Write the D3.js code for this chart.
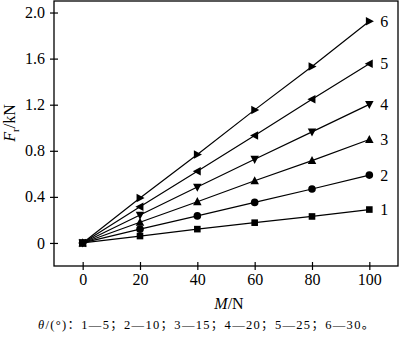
<!DOCTYPE html>
<html><head><meta charset="utf-8">
<script src="https://cdn.jsdelivr.net/npm/d3@7"></script>
<style>body{margin:0;background:#fff}svg{display:block}</style>
</head><body>
<svg id="c" width="400" height="338"></svg>
<script>
const xValues = [0, 20, 40, 60, 80, 100];
const s1 = [0, 0.06, 0.12, 0.176, 0.23, 0.29];
const s2 = [0, 0.12, 0.235, 0.352, 0.468, 0.589];
const s3 = [0, 0.18, 0.358, 0.54, 0.715, 0.898];
const s4 = [0, 0.242, 0.485, 0.726, 0.964, 1.203];
const s5 = [0, 0.314, 0.623, 0.932, 1.247, 1.556];
const s6 = [0, 0.39, 0.768, 1.155, 1.532, 1.925];
const seriesNames = ["1", "2", "3", "4", "5", "6"];
const seriesMarkers = ["square", "circle", "up", "down", "left", "right"];
const xTicks = [0, 20, 40, 60, 80, 100];
const yTicks = [0, 0.4, 0.8, 1.2, 1.6, 2.0];
const yTickLabels = ["0", "0.4", "0.8", "1.2", "1.6", "2.0"];
const notePairs = [["1", "5"], ["2", "10"], ["3", "15"], ["4", "20"], ["5", "25"], ["6", "30"]];

const allSeries = [s1, s2, s3, s4, s5, s6];
const svg = d3.select("#c");
const L = 54, R = 398, T = 1, B = 266;
const x = d3.scaleLinear().domain([-10, 110]).range([L, R]);
const y = d3.scaleLinear().domain([-0.2, 2.1]).range([B, T]);
const font = "'Liberation Serif','Times New Roman',serif";
const cjk = "'Noto Sans CJK SC',sans-serif";

svg.append("rect").attr("x", L).attr("y", T).attr("width", R - L).attr("height", B - T)
  .attr("fill", "none").attr("stroke", "#000").attr("stroke-width", 1.3);

const xAxis = svg.append("g").attr("transform", `translate(0,${B})`)
  .call(d3.axisBottom(x).tickValues(xTicks).tickSize(4).tickSizeOuter(0).tickPadding(4));
const yAxis = svg.append("g").attr("transform", `translate(${L},0)`)
  .call(d3.axisLeft(y).tickValues(yTicks).tickFormat((d, i) => yTickLabels[i]).tickSize(4).tickSizeOuter(0).tickPadding(5));
[xAxis, yAxis].forEach(g => {
  g.attr("font-family", null).attr("font-size", null);
  g.select(".domain").remove();
  g.selectAll("text").style("font-family", font).style("font-size", "16px").attr("fill", "#000");
});
xAxis.selectAll(".tick line").attr("y1", -4).attr("y2", 4).attr("stroke", "#000").attr("stroke-width", 1.2);
yAxis.selectAll(".tick line").attr("x1", 4).attr("x2", -4).attr("stroke", "#000").attr("stroke-width", 1.2);

const line = d3.line().x((d, i) => x(xValues[i])).y(d => y(d));
const tri = (cx, cy, s, dir) => {
  const h = s * 0.9;
  let pts;
  if (dir === "up") pts = [[cx, cy - h * 0.6], [cx - s / 2, cy + h * 0.45], [cx + s / 2, cy + h * 0.45]];
  if (dir === "down") pts = [[cx, cy + h * 0.6], [cx - s / 2, cy - h * 0.45], [cx + s / 2, cy - h * 0.45]];
  if (dir === "left") pts = [[cx - h * 0.6, cy], [cx + h * 0.45, cy - s / 2], [cx + h * 0.45, cy + s / 2]];
  if (dir === "right") pts = [[cx + h * 0.6, cy], [cx - h * 0.45, cy - s / 2], [cx - h * 0.45, cy + s / 2]];
  return "M" + pts.map(p => p.join(",")).join("L") + "Z";
};

allSeries.forEach((vals, si) => {
  const g = svg.append("g");
  g.append("path").attr("d", line(vals)).attr("fill", "none").attr("stroke", "#000").attr("stroke-width", 1.2);
  const m = seriesMarkers[si];
  vals.forEach((v, i) => {
    const cx = x(xValues[i]), cy = y(v);
    if (m === "square") g.append("rect").attr("x", cx - 3.3).attr("y", cy - 3.3).attr("width", 6.6).attr("height", 6.6).attr("fill", "#000");
    else if (m === "circle") g.append("circle").attr("cx", cx).attr("cy", cy).attr("r", 3.8).attr("fill", "#000");
    else g.append("path").attr("d", tri(cx, cy, 8.5, m)).attr("fill", "#000");
  });
  g.append("text").attr("x", x(xValues[xValues.length - 1]) + 15).attr("y", y(vals[vals.length - 1]) + 5.5)
    .attr("text-anchor", "middle").style("font-family", font).style("font-size", "16px").text(seriesNames[si]);
});

const xt = svg.append("text").attr("x", 229).attr("y", 309).attr("text-anchor", "middle")
  .style("font-family", font).style("font-size", "16px");
xt.append("tspan").attr("font-style", "italic").text("M");
xt.append("tspan").text("/N");

const yt = svg.append("text").attr("transform", "translate(15,123) rotate(-90)").attr("text-anchor", "middle")
  .style("font-family", font).style("font-size", "16px");
yt.append("tspan").attr("font-style", "italic").text("F");
yt.append("tspan").style("font-size", "11px").attr("dy", 4).text("r");
yt.append("tspan").attr("dy", -4).text("/kN");

const note = svg.append("text").attr("x", 38).attr("y", 329)
  .style("font-family", font).style("font-size", "12.5px").style("letter-spacing", "1.3px");
note.append("tspan").attr("font-style", "italic").text("θ");
note.append("tspan").text("/(°)");
note.append("tspan").style("font-family", cjk).text("：");
notePairs.forEach((p, i) => {
  note.append("tspan").text(p[0]);
  note.append("tspan").text("—");
  note.append("tspan").text(p[1]);
  note.append("tspan").style("font-family", cjk).text(i < notePairs.length - 1 ? "；" : "。");
});
</script>
</body></html>
